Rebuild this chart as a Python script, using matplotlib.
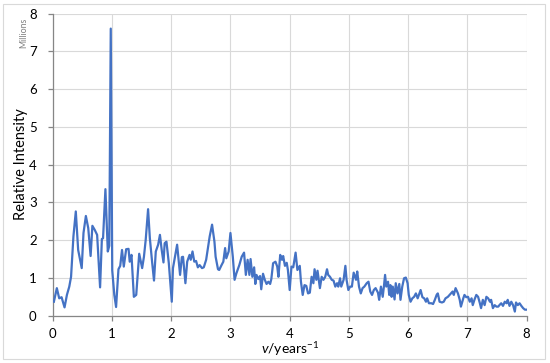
import matplotlib
matplotlib.use('Agg')
from matplotlib import pyplot as plt
from matplotlib.patches import Rectangle

plt.rcParams['font.family'] = ['Lato', 'DejaVu Sans']
plt.rcParams['mathtext.fontset'] = 'custom'
plt.rcParams['mathtext.rm'] = 'Lato'
plt.rcParams['mathtext.it'] = 'Lato:italic'

# frequency (1/years) and intensity (millions)
freq = [0.02, 0.07, 0.11, 0.15, 0.20, 0.24, 0.28, 0.31, 0.35, 0.39,
        0.43, 0.49, 0.52, 0.56, 0.60, 0.64, 0.67, 0.71, 0.75, 0.80,
        0.83, 0.85, 0.89, 0.93, 0.955, 0.98, 1.005, 1.04, 1.07, 1.11,
        1.14, 1.17, 1.20, 1.24, 1.28, 1.30, 1.33, 1.37, 1.41, 1.46,
        1.51, 1.54, 1.57, 1.61, 1.64, 1.68, 1.71, 1.74, 1.78, 1.81,
        1.84, 1.87, 1.89, 1.92, 1.96, 2.01, 2.03, 2.07, 2.10, 2.13,
        2.15, 2.18, 2.20, 2.24, 2.27, 2.31, 2.33, 2.36, 2.39, 2.42,
        2.45, 2.48, 2.52, 2.55, 2.59, 2.62, 2.65, 2.69, 2.73, 2.75,
        2.79, 2.81, 2.85, 2.88, 2.91, 2.93, 2.97, 3.00, 3.04, 3.07,
        3.10, 3.15, 3.19, 3.23, 3.26, 3.29, 3.32, 3.34, 3.37, 3.40,
        3.42, 3.44, 3.47, 3.50, 3.52, 3.55, 3.58, 3.61, 3.64, 3.67,
        3.69, 3.72, 3.76, 3.79, 3.81, 3.84, 3.87, 3.89, 3.92, 3.95,
        3.97, 4.00, 4.03, 4.06, 4.10, 4.13, 4.17, 4.19, 4.22, 4.25,
        4.28, 4.31, 4.34, 4.37, 4.40, 4.42, 4.45, 4.47, 4.51, 4.54,
        4.57, 4.60, 4.63, 4.65, 4.68, 4.71, 4.74, 4.77, 4.80, 4.82,
        4.85, 4.87, 4.91, 4.94, 4.96, 4.99, 5.02, 5.05, 5.08, 5.12,
        5.14, 5.17, 5.20, 5.23, 5.26, 5.30, 5.33, 5.36, 5.39, 5.42,
        5.45, 5.49, 5.51, 5.54, 5.57, 5.59, 5.61, 5.63, 5.66, 5.68,
        5.70, 5.72, 5.74, 5.77, 5.79, 5.82, 5.85, 5.87, 5.90, 5.93,
        5.96, 5.99, 6.01, 6.04, 6.07, 6.10, 6.13, 6.16, 6.18, 6.21,
        6.24, 6.27, 6.30, 6.32, 6.35, 6.39, 6.42, 6.45, 6.48, 6.50,
        6.53, 6.57, 6.60, 6.63, 6.67, 6.71, 6.75, 6.77, 6.80, 6.84,
        6.87, 6.89, 6.93, 6.95, 6.98, 7.01, 7.04, 7.07, 7.09, 7.12,
        7.15, 7.18, 7.21, 7.23, 7.26, 7.29, 7.32, 7.35, 7.38, 7.40,
        7.43, 7.46, 7.49, 7.52, 7.54, 7.57, 7.60, 7.63, 7.66, 7.68,
        7.71, 7.74, 7.77, 7.80, 7.82, 7.85, 7.88, 7.91, 7.94, 7.97,
        7.99]

intensity = [0.37, 0.73, 0.46, 0.49, 0.22, 0.55, 0.77, 1.03, 2.10, 2.76,
             1.74, 1.26, 2.19, 2.64, 2.32, 1.58, 2.38, 2.27, 2.14, 0.75,
             2.03, 2.05, 3.35, 1.70, 1.85, 7.60, 1.20, 0.55, 0.23, 1.23,
             1.32, 1.74, 1.30, 1.76, 1.77, 1.43, 1.61, 0.50, 0.55, 1.64,
             1.26, 1.56, 2.01, 2.82, 2.05, 1.39, 0.93, 1.70, 1.88, 2.14,
             1.74, 1.41, 1.92, 1.96, 1.39, 0.37, 1.26, 1.61, 1.88, 1.39,
             1.08, 1.55, 1.56, 0.86, 1.43, 1.61, 1.48, 1.70, 1.43, 1.45,
             1.28, 1.34, 1.26, 1.28, 1.48, 1.79, 2.10, 2.41, 1.96, 1.56,
             1.23, 1.21, 1.34, 1.43, 1.79, 1.52, 1.70, 2.19, 1.56, 0.95,
             1.12, 1.34, 1.56, 1.67, 1.08, 1.48, 1.08, 1.50, 1.03, 1.28,
             0.84, 1.08, 0.97, 1.05, 0.70, 1.11, 0.95, 0.84, 0.90, 0.84,
             0.97, 1.39, 1.43, 1.30, 1.03, 1.61, 1.48, 1.58, 1.32, 1.40,
             1.21, 0.68, 1.30, 1.28, 1.67, 1.21, 1.32, 0.90, 0.55, 0.81,
             0.79, 0.59, 0.61, 1.03, 0.86, 1.23, 0.95, 1.19, 0.73, 1.03,
             0.95, 1.03, 1.23, 1.08, 1.03, 0.95, 0.93, 0.77, 0.86, 0.77,
             0.99, 0.77, 0.95, 1.32, 0.95, 0.68, 0.77, 0.77, 1.14, 0.95,
             1.17, 0.77, 0.59, 0.73, 0.77, 0.86, 0.90, 0.64, 0.55, 0.68,
             0.73, 0.61, 0.42, 0.77, 0.50, 0.77, 1.08, 0.77, 0.90, 0.55,
             0.81, 0.50, 0.77, 0.43, 0.86, 0.59, 0.84, 0.42, 0.77, 0.99,
             1.01, 0.86, 0.55, 0.37, 0.46, 0.50, 0.59, 0.46, 0.55, 0.68,
             0.49, 0.46, 0.37, 0.46, 0.33, 0.33, 0.31, 0.42, 0.55, 0.59,
             0.37, 0.35, 0.37, 0.46, 0.50, 0.57, 0.64, 0.55, 0.73, 0.59,
             0.42, 0.24, 0.46, 0.55, 0.49, 0.50, 0.37, 0.46, 0.28, 0.43,
             0.55, 0.50, 0.33, 0.20, 0.42, 0.28, 0.50, 0.46, 0.37, 0.42,
             0.20, 0.28, 0.24, 0.24, 0.28, 0.33, 0.26, 0.37, 0.33, 0.42,
             0.26, 0.37, 0.28, 0.11, 0.35, 0.28, 0.33, 0.26, 0.20, 0.16,
             0.16]

ticks = [0, 1, 2, 3, 4, 5, 6, 7, 8]

fig = plt.figure(figsize=(5.5, 3.63), dpi=100)
ax = fig.add_axes([0.0958, 0.1303, 0.8618, 0.8325])

ax.plot(freq, intensity, color='#4472C4', lw=1.6, zorder=3)

ax.set_xlim(0, 8)
ax.set_ylim(0, 8)
ax.set_xticks(ticks)
ax.set_yticks(ticks)
ax.grid(True, color='#D9D9D9', lw=0.8, zorder=0)
ax.set_axisbelow(True)

for s in ['top', 'right']:
    ax.spines[s].set_visible(False)
for s in ['left', 'bottom']:
    ax.spines[s].set_color('#868686')
    ax.spines[s].set_linewidth(0.9)
ax.tick_params(axis='both', which='major', labelsize=9.5, length=3.5,
               color='#868686', width=0.9)
ax.tick_params(axis='x', pad=5)
ax.tick_params(axis='y', pad=8)

ax.set_xlabel('$v$/years$^{-1}$', fontsize=10, va='center')
ax.xaxis.set_label_coords(0.5, -0.112)
ax.set_ylabel('Relative Intensity', fontsize=10.5, va='center')
ax.yaxis.set_label_coords(-0.066, 0.5)
fig.text(0.0424, 0.910, 'Millions', rotation=90, fontsize=6.3,
         color='#7F7F7F', ha='center', va='center')

# light frame round the whole chart
fig.patches.append(Rectangle((3 / 550, 4 / 363), 542 / 550, 355 / 363,
                             transform=fig.transFigure, fill=False,
                             edgecolor='#D9D9D9', lw=0.8))

fig.savefig('out.png', dpi=100)
